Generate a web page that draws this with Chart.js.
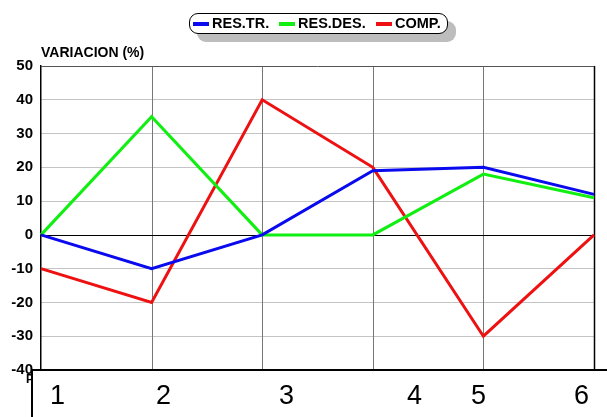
<!DOCTYPE html>
<html>
<head>
<meta charset="utf-8">
<script src="https://cdn.jsdelivr.net/npm/chart.js@4"></script>
<style>
  body { margin: 0; background: #fff; font-family: "Liberation Sans", Arial, sans-serif; }
  #wrap { position: relative; width: 607px; height: 417px; overflow: hidden; }
  #legend { position: absolute; left: 189px; top: 13px; width: 257px; height: 19px;
    border: 1.5px solid #000; border-radius: 9px; background: #fff;
    box-shadow: 8px 8px 0 #bdbdbd; font-weight: bold; font-size: 14.5px; }
  #legend span { position: absolute; top: 1px; }
  #legend i { position: absolute; top: 8px; height: 4px; width: 16px; }
  #ytitle { position: absolute; left: 41px; top: 44px; font-weight: bold; font-size: 14px; }
  #xtitle { position: absolute; left: 26px; top: 372px; font-weight: bold; font-size: 12px; }
  #xbox { position: absolute; left: 31px; top: 369px; width: 600px; height: 60px;
    border-top: 2.5px solid #000; border-left: 2px solid #000; background: #fff; }
  #xbox span { position: absolute; top: 9px; font-size: 27px; }
</style>
</head>
<body>
<div id="wrap">
  <canvas id="lineChart" width="607" height="417"></canvas>
  <div id="ytitle">VARIACION (%)</div>
  <div id="xtitle">PERIODO</div>
  <div id="xbox"></div>
  <div id="legend"></div>
</div>
<script>
// data
var categories = ["1", "2", "3", "4", "5", "6"];
var resTr = [0, -10, 0, 19, 20, 12];
var resDes = [0, 35, 0, 0, 18, 11];
var comp = [-10, -20, 40, 20, -30, 0];
var seriesNames = ["RES.TR.", "RES.DES.", "COMP."];
var seriesColors = ["#0a0aee", "#11ee11", "#ee1111"];
// the bottom labels sit in their own box, not under the points
var xLabelLeft = [50, 156, 279, 407, 471, 574];

// legend
var legend = document.getElementById('legend');
var swatchLeft = [3, 89, 186];
for (var i = 0; i < seriesNames.length; i++) {
    legend.innerHTML += '<i style="left:' + swatchLeft[i] + 'px;background:' + seriesColors[i] + '"></i>' +
        '<span style="left:' + (swatchLeft[i] + 19) + 'px">' + seriesNames[i] + '</span>';
}

// bottom labels
var xbox = document.getElementById('xbox');
for (var i = 0; i < categories.length; i++) {
    xbox.innerHTML += '<span style="left:' + (xLabelLeft[i] - 33) + 'px">' + categories[i] + '</span>';
}

// vertical grid, top border and zero line, kept inside the plot
var frameLines = {
    id: 'frameLines',
    beforeDatasetsDraw: function (chart) {
        var xs = chart.scales.x, ys = chart.scales.y;
        var top = ys.getPixelForValue(50), bottom = ys.getPixelForValue(-40);
        var ctx = chart.ctx;
        ctx.save();
        for (var i = 1; i < categories.length; i++) {
            var x = Math.round(xs.getPixelForValue(i)) + 0.5;
            ctx.strokeStyle = i === categories.length - 1 ? '#000' : '#777';
            ctx.lineWidth = i === categories.length - 1 ? 1.5 : 1;
            ctx.beginPath();
            ctx.moveTo(x, top);
            ctx.lineTo(x, bottom);
            ctx.stroke();
        }
        ctx.strokeStyle = '#555';
        ctx.lineWidth = 1;
        ctx.beginPath();
        ctx.moveTo(xs.left, Math.round(top) + 0.5);
        ctx.lineTo(xs.right, Math.round(top) + 0.5);
        ctx.stroke();
        var y0 = Math.round(ys.getPixelForValue(0)) + 0.5;
        ctx.strokeStyle = '#000';
        ctx.beginPath();
        ctx.moveTo(xs.left, y0);
        ctx.lineTo(xs.right, y0);
        ctx.stroke();
        ctx.restore();
    }
};

var ctxL = document.getElementById("lineChart").getContext('2d');
var myLineChart = new Chart(ctxL, {
    type: 'line',
    plugins: [frameLines],
    data: {
        labels: categories,
        datasets: [
            { label: seriesNames[0], data: resTr, borderColor: seriesColors[0] },
            { label: seriesNames[1], data: resDes, borderColor: seriesColors[1] },
            { label: seriesNames[2], data: comp, borderColor: seriesColors[2] }
        ]
    },
    options: {
        responsive: false,
        animation: false,
        layout: { padding: { top: 66, right: 13, bottom: 47, left: 0 } },
        elements: {
            line: { borderWidth: 3, tension: 0 },
            point: { radius: 0, hoverRadius: 0 }
        },
        plugins: {
            legend: { display: false },
            tooltip: { enabled: false }
        },
        scales: {
            x: {
                offset: false,
                afterFit: function (scale) { scale.height = 0; },
                ticks: { display: false },
                grid: { display: false },
                border: { display: false }
            },
            y: {
                min: -40,
                max: 50,
                afterFit: function (scale) { scale.width = 41; },
                ticks: {
                    stepSize: 10,
                    padding: 8,
                    color: '#000',
                    font: { family: 'Liberation Sans', size: 15, weight: 'bold' }
                },
                grid: {
                    drawTicks: false,
                    color: function (c) { return c.tick && (c.tick.value === 50 || c.tick.value === 0) ? 'rgba(0,0,0,0)' : '#888'; }
                },
                border: { display: true, color: '#000', width: 1.5, dash: [1, 1] }
            }
        }
    }
});
</script>
</body>
</html>
